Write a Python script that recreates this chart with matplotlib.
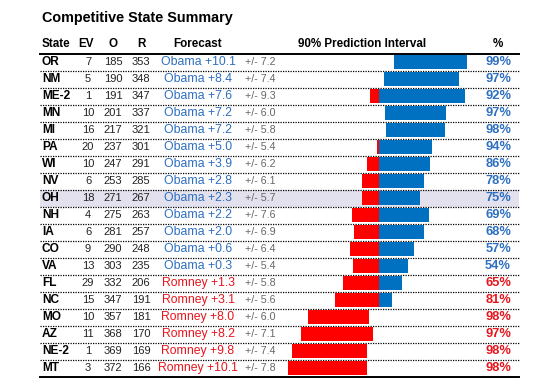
import matplotlib
matplotlib.use("Agg")
from matplotlib import pyplot as plt
import numpy as np

plt.rcParams['font.family'] = ['Liberation Sans', 'DejaVu Sans']

# data
states = ['OR', 'NM', 'ME-2', 'MN', 'MI', 'PA', 'WI', 'NV', 'OH', 'NH',
          'IA', 'CO', 'VA', 'FL', 'NC', 'MO', 'AZ', 'NE-2', 'MT']
ev = [7, 5, 1, 10, 16, 20, 10, 6, 18, 4, 6, 9, 13, 29, 15, 10, 11, 1, 3]
o_votes = [185, 190, 191, 201, 217, 237, 247, 253, 271, 275, 281, 290, 303,
           332, 347, 357, 368, 369, 372]
r_votes = [353, 348, 347, 337, 321, 301, 291, 285, 267, 263, 257, 248, 235,
           206, 191, 181, 170, 169, 166]
# positive = Obama lead, negative = Romney lead
margin = [10.1, 8.4, 7.6, 7.2, 7.2, 5.0, 3.9, 2.8, 2.3, 2.2, 2.0, 0.6, 0.3,
          -1.3, -3.1, -8.0, -8.2, -9.8, -10.1]
err = [7.2, 7.4, 9.3, 6.0, 5.8, 5.4, 6.2, 6.1, 5.7, 7.6, 6.9, 6.4, 5.4,
       5.8, 5.6, 6.0, 7.1, 7.4, 7.8]
pct = [99, 97, 92, 97, 98, 94, 86, 78, 75, 69, 68, 57, 54, 65, 81, 98, 97, 98, 98]
highlight = 'OH'

BLUE_BAR = '#0070C0'
RED_BAR = '#FF0000'
BLUE_TXT = '#2E6FC0'
RED_TXT = '#E8141C'

W, H = 550, 386
row0, row_h = 62, 17  # pixel centre of first row, row height
n = len(states)
ytop = (0 - row0) / row_h
ybot = (H - row0) / row_h

fig = plt.figure(figsize=(W / 100, H / 100), dpi=100)

# table axes: x in pixels, y in rows
ax = fig.add_axes([0, 0, 1, 1])
ax.set_xlim(0, W)
ax.set_ylim(ybot, ytop)
ax.axis('off')

# bar axes: x in margin points, same rows
zero_px, scale = 379, 5.07
bx0, bx1 = 280, 480
bax = fig.add_axes([bx0 / W, 0, (bx1 - bx0) / W, 1])
bax.set_xlim((bx0 - zero_px) / scale, (bx1 - zero_px) / scale)
bax.set_ylim(ybot, ytop)
bax.axis('off')
bax.patch.set_alpha(0)

x_left, x_right = 40, 519

ax.text(42, -2.6, 'Competitive State Summary', fontsize=10.4,
        fontweight='bold', va='center', ha='left')

hy = -1.05
hdr = dict(fontsize=8.4, fontweight='bold', va='center')
ax.text(42, hy, 'State', ha='left', **hdr)
ax.text(86, hy, 'EV', ha='center', **hdr)
ax.text(113, hy, 'O', ha='center', **hdr)
ax.text(141, hy, 'R', ha='center', **hdr)
ax.text(198, hy, 'Forecast', ha='center', **hdr)
ax.text(362, hy, '90% Prediction Interval', ha='center', **hdr)
ax.text(498, hy, '%', ha='center', **hdr)

ax.plot([x_left, x_right], [-0.5, -0.5], color='black', lw=1.4)
ax.plot([x_left, x_right], [n - 0.5, n - 0.5], color='black', lw=1.4)
for i in range(n - 1):
    ax.plot([x_left, x_right], [i + 0.5, i + 0.5], color='black', lw=0.9,
            linestyle=(0, (1, 1)))

for i, st in enumerate(states):
    if st == highlight:
        ax.fill_between([x_left, x_right], i - 0.5, i + 0.5,
                        color='#E3E1EE', zorder=0, lw=0)
    obama = margin[i] > 0
    c = BLUE_TXT if obama else RED_TXT
    lab = ('Obama +%.1f' % margin[i]) if obama else ('Romney +%.1f' % -margin[i])
    ax.text(42, i, st, fontsize=8.6, fontweight='bold', va='center', ha='left')
    ax.text(88, i, str(ev[i]), fontsize=8, va='center', ha='center', color='#222222')
    ax.text(113, i, str(o_votes[i]), fontsize=8, va='center', ha='center', color='#222222')
    ax.text(141, i, str(r_votes[i]), fontsize=8, va='center', ha='center', color='#222222')
    ax.text(198, i, lab, fontsize=8.8, va='center', ha='center', color=c)
    ax.text(245, i, '+/- %.1f' % err[i], fontsize=7.7, va='center', ha='left',
            color='#666666')
    ax.text(511, i, '%d%%' % pct[i], fontsize=9.3, fontweight='bold',
            va='center', ha='right', color=c)

lo = np.array(margin) - np.array(err)
hi = np.array(margin) + np.array(err)
ys = np.arange(n)
red_l = np.minimum(lo, 0)
red_r = np.minimum(hi, 0)
blue_l = np.maximum(lo, 0)
blue_r = np.maximum(hi, 0)
bax.barh(ys, red_r - red_l, left=red_l, height=0.88, color=RED_BAR, lw=0)
bax.barh(ys, blue_r - blue_l, left=blue_l, height=0.88, color=BLUE_BAR, lw=0)

fig.savefig('out.png', dpi=100)
